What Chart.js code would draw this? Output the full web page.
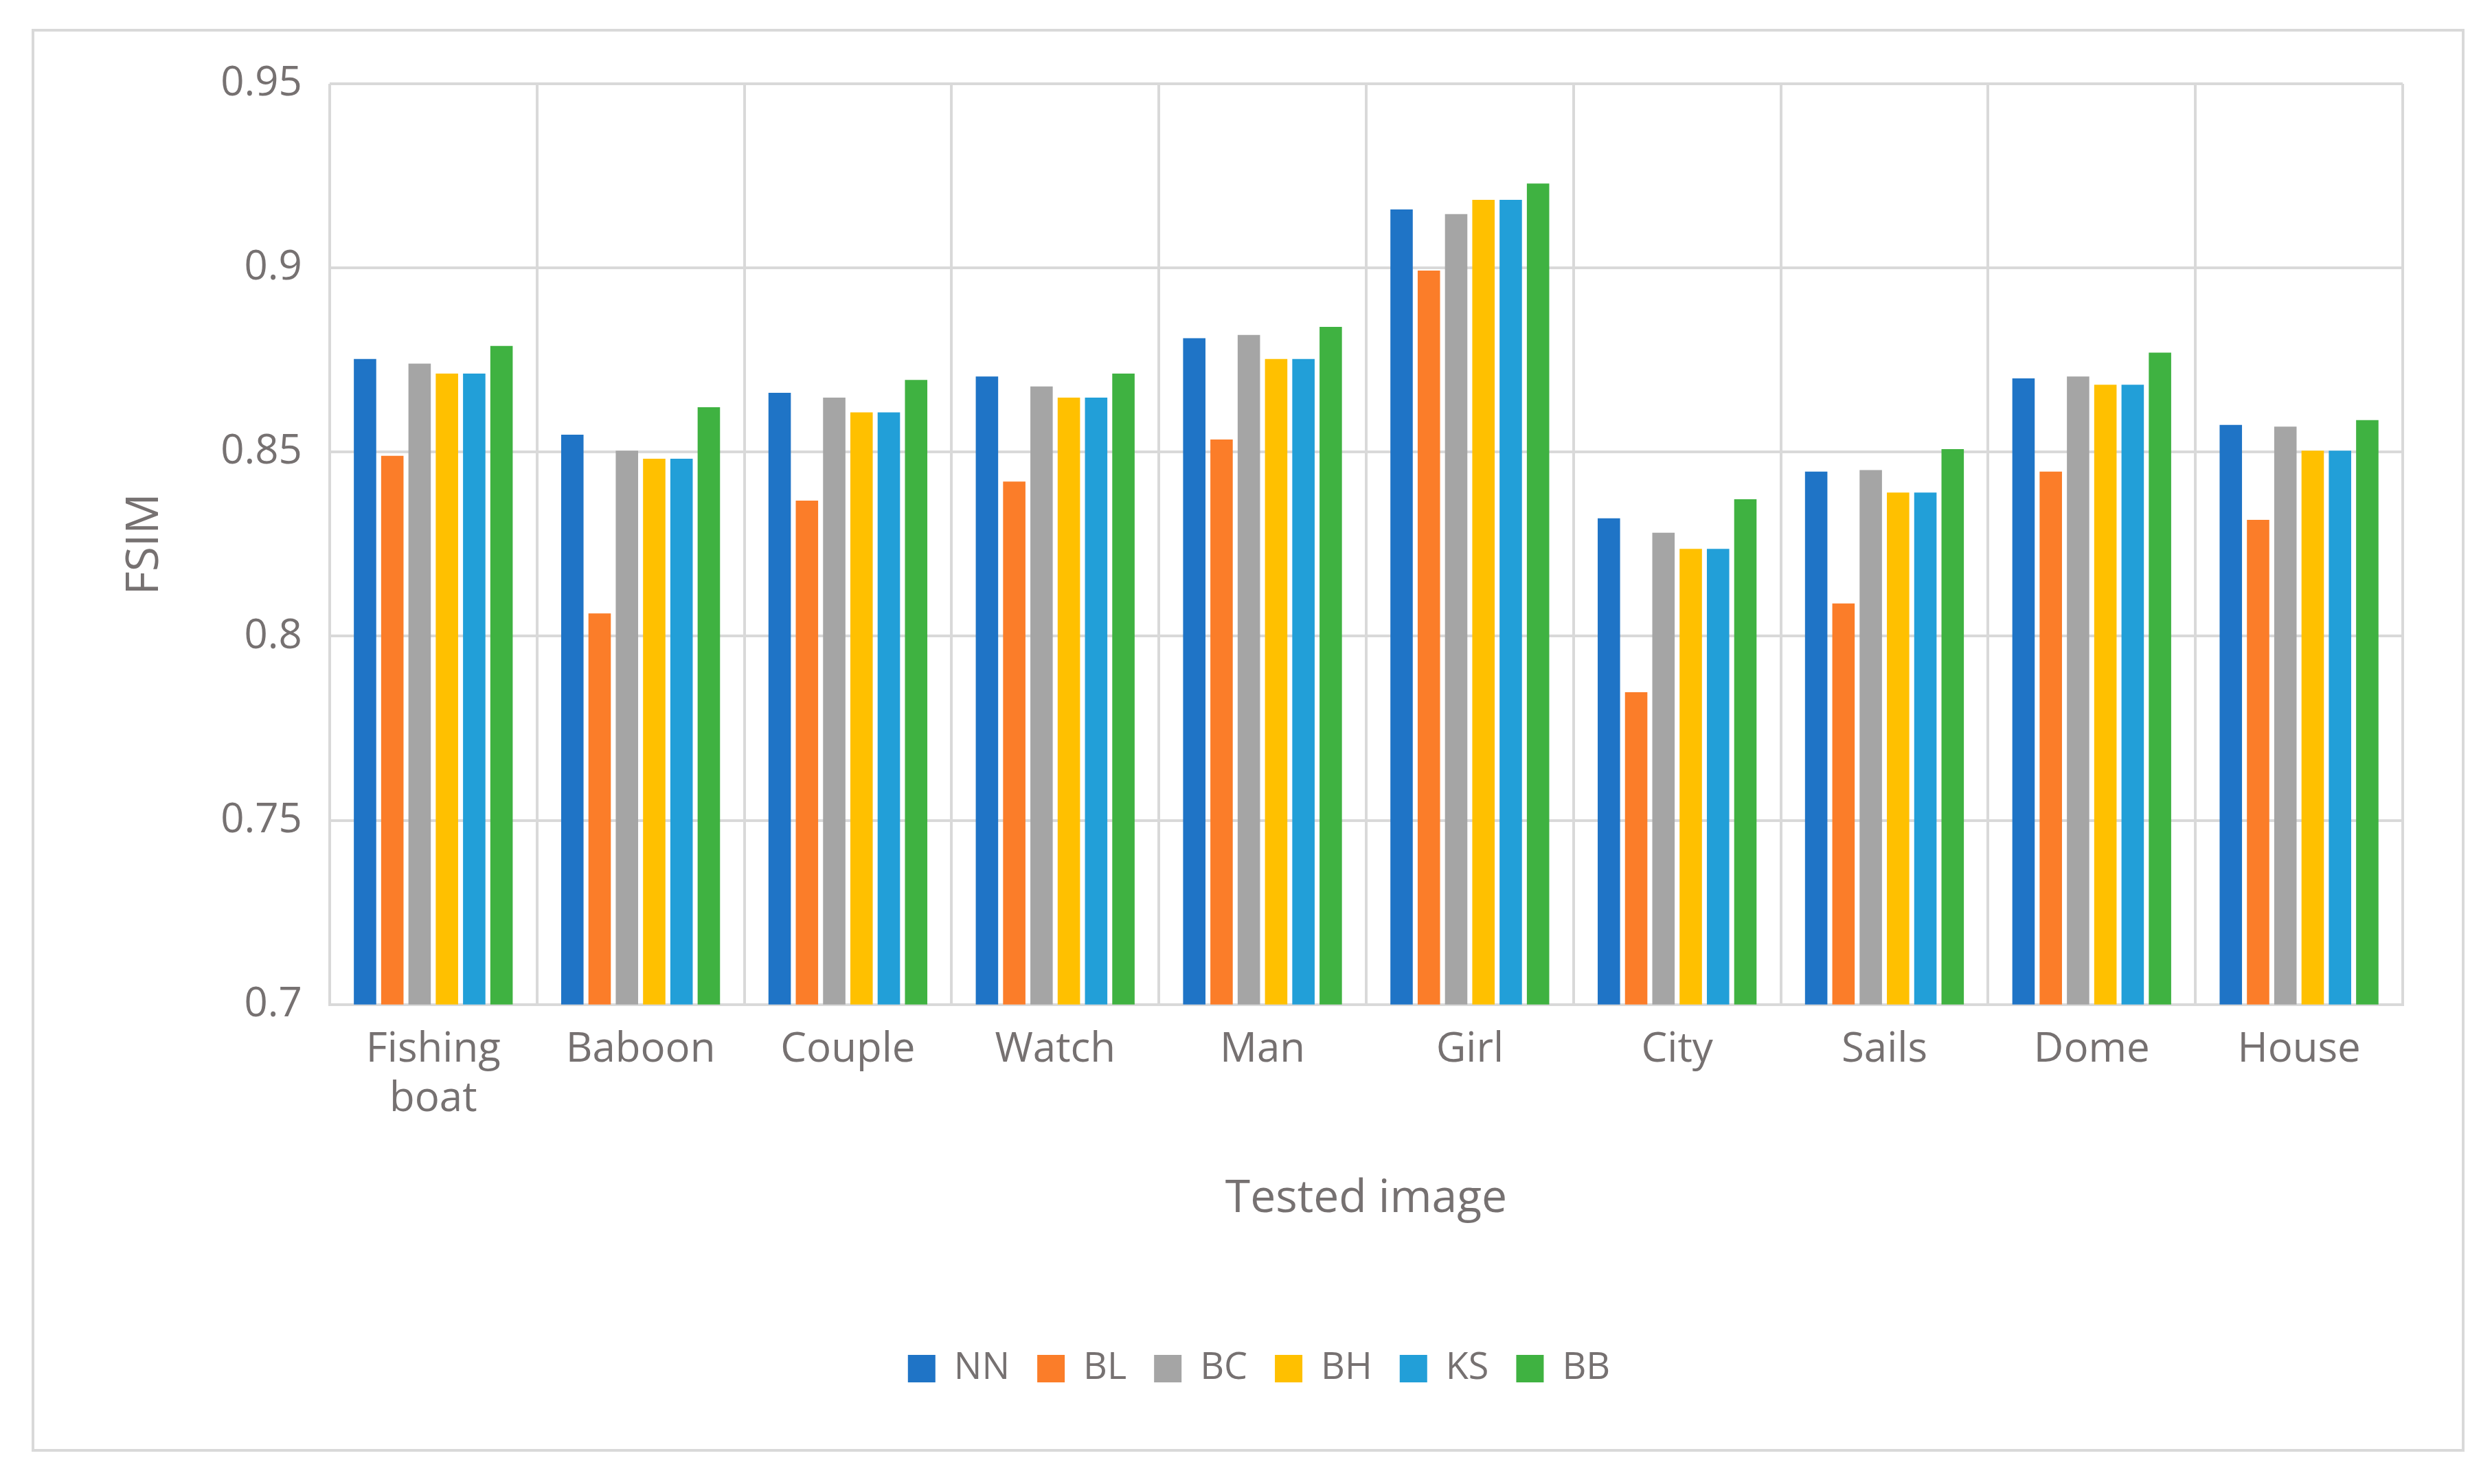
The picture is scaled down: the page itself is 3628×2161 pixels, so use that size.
<!DOCTYPE html>
<html>
<head>
<meta charset="utf-8">
<script src="https://cdn.jsdelivr.net/npm/chart.js@4"></script>
<style>
  body { margin: 0; background: #fff; }
  #box { position: absolute; left: 46px; top: 42px; width: 3534px; height: 2064px; border: 4px solid #d9d9d9; }
  canvas { width: 100% !important; height: 100% !important; }
</style>
</head>
<body>
<div id="box"><canvas id="chart"></canvas></div>
<script>
const categories = [['Fishing', 'boat'], 'Baboon', 'Couple', 'Watch', 'Man', 'Girl', 'City', 'Sails', 'Dome', 'House'];
const nn = [0.8753, 0.8547, 0.8661, 0.8705, 0.8809, 0.9159, 0.8320, 0.8447, 0.8700, 0.8574];
const bl = [0.8490, 0.8062, 0.8368, 0.8420, 0.8534, 0.8993, 0.7848, 0.8089, 0.8447, 0.8316];
const bc = [0.8740, 0.8504, 0.8648, 0.8678, 0.8818, 0.9146, 0.8281, 0.8451, 0.8705, 0.8569];
const bh = [0.8713, 0.8482, 0.8608, 0.8648, 0.8753, 0.9185, 0.8237, 0.8390, 0.8683, 0.8504];
const ks = [0.8713, 0.8482, 0.8608, 0.8648, 0.8753, 0.9185, 0.8237, 0.8390, 0.8683, 0.8504];
const bb = [0.8788, 0.8622, 0.8696, 0.8713, 0.8840, 0.9229, 0.8372, 0.8508, 0.8770, 0.8587];

const grey = '#767171';
const ds = (label, data, color) => ({ label, data, backgroundColor: color, barPercentage: 0.82, categoryPercentage: 0.79 });

new Chart(document.getElementById('chart'), {
  type: 'bar',
  data: {
    labels: categories,
    datasets: [
      ds('NN', nn, '#1f74c6'),
      ds('BL', bl, '#fb7d29'),
      ds('BC', bc, '#a5a5a5'),
      ds('BH', bh, '#ffc000'),
      ds('KS', ks, '#229fd8'),
      ds('BB', bb, '#3fb241')
    ]
  },
  options: {
    responsive: true,
    maintainAspectRatio: false,
    animation: false,
    layout: { padding: { left: 118, right: 86, top: 58, bottom: 80 } },
    plugins: {
      legend: {
        position: 'bottom',
        labels: { font: { size: 54, family: 'Open Sans' }, color: grey, boxWidth: 40, boxHeight: 40, padding: 40 }
      },
      tooltip: { enabled: false }
    },
    scales: {
      x: {
        grid: { color: '#d9d9d9', lineWidth: 4, drawTicks: false },
        border: { color: '#d9d9d9', width: 4 },
        ticks: { font: { size: 60, family: 'Open Sans' }, color: grey, padding: 30, maxRotation: 0 },
        title: { display: true, text: 'Tested image', font: { size: 66, family: 'Open Sans' }, color: grey, padding: { top: 40, bottom: 140 } }
      },
      y: {
        min: 0.7, max: 0.95,
        grid: { color: '#d9d9d9', lineWidth: 4, drawTicks: false },
        border: { display: false },
        ticks: { stepSize: 0.05, font: { size: 60, family: 'Open Sans' }, color: grey, padding: 40,
          callback: v => String(Math.round(v * 100) / 100) },
        title: { display: true, text: 'FSIM', font: { size: 66, family: 'Open Sans' }, color: grey, padding: { bottom: 30 } }
      }
    }
  }
});
</script>
</body>
</html>
